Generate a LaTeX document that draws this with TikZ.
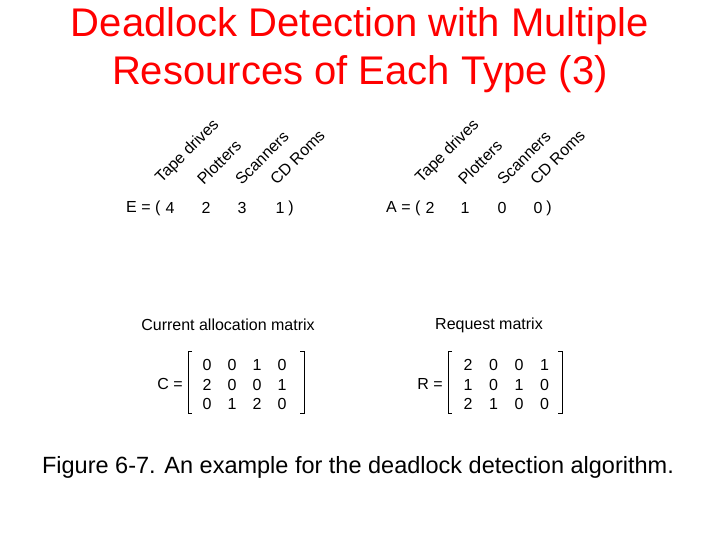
\documentclass[tikz,border=0pt]{standalone}
\usepackage{fontspec}
\setmainfont{Liberation Sans}
\usetikzlibrary{positioning}
\tikzset{
  lbl/.style={font=\fontsize{16}{19}\selectfont, inner sep=0pt},
  head/.style={lbl, rotate=45, anchor=south west},
  brk/.style={line width=0.8pt}
}
\begin{document}
\begin{tikzpicture}[x=1pt,y=-1pt]
		\useasboundingbox[fill=white] (0,0) rectangle (720,540);
		\node[red, font=\fontsize{40}{48}\selectfont, align=center] (title) at (360,50) {Deadlock Detection with Multiple\\Resources of Each Type (3)};

		% existing and available vectors
		\node[lbl, anchor=west] (E) at (126,208) {E = (};
		\node[lbl, anchor=west] (A) at (386,208) {A = (};
		\foreach \x/\v in {170/4, 206/2, 242/3, 280/1} {
			\node[lbl] at (\x,208) {\v};
		}
		\foreach \x/\v in {430/2, 465/1, 502/0, 538/0} {
			\node[lbl] at (\x,208) {\v};
		}
		\node[lbl] at (291,208) {)};
		\node[lbl] at (549,208) {)};
		\foreach \x/\t in {164/Tape drives, 204/Plotters, 242/Scanners, 277/CD Roms} {
			\node[head] at (\x,186) {\t};
		}
		\foreach \x/\t in {424/Tape drives, 465/Plotters, 504/Scanners, 537/CD Roms} {
			\node[head] at (\x,186) {\t};
		}

		% matrices
		\node[lbl] (cam) at (228,325) {Current allocation matrix};
		\node[lbl] (rm) at (489,325) {Request matrix};
		\node[lbl, anchor=east] (C) at (183,384) {C =};
		\node[lbl, anchor=east] (R) at (443,384) {R =};
		\foreach \v [count=\i from 0] in {0,0,1,0,2,0,0,1,0,1,2,0} {
			\pgfmathtruncatemacro\r{\i/4}
			\pgfmathtruncatemacro\c{mod(\i,4)}
			\node[lbl] at (207+25*\c,365+19.5*\r) {\v};
		}
		\foreach \v [count=\i from 0] in {2,0,0,1,1,0,1,0,2,1,0,0} {
			\pgfmathtruncatemacro\r{\i/4}
			\pgfmathtruncatemacro\c{mod(\i,4)}
			\node[lbl] at (468+25.5*\c,365+19.5*\r) {\v};
		}
		\draw[brk] (192,351) -- (188,351) -- (188,413) -- (192,413);
		\draw[brk] (300,351) -- (304,351) -- (304,413) -- (300,413);
		\draw[brk] (452,351) -- (448,351) -- (448,413) -- (452,413);
		\draw[brk] (558,351) -- (562,351) -- (562,413) -- (558,413);

		\node[font=\fontsize{23.5}{28}\selectfont] (cap) at (358,467) {Figure 6-7. An example for the deadlock detection algorithm.};
	\end{tikzpicture}
\end{document}
